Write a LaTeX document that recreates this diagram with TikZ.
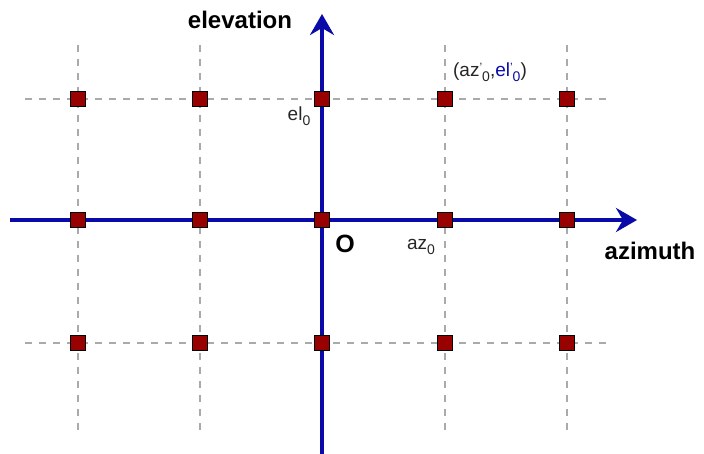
\documentclass[tikz,border=0pt]{standalone}
\usepackage{fontspec}
\setmainfont{Liberation Sans}
\usetikzlibrary{arrows.meta}
\definecolor{axisblue}{HTML}{0A0AA8}
\definecolor{ptred}{HTML}{990000}
\definecolor{gridgray}{HTML}{AAAAAA}
\newcommand{\subz}{\raisebox{-5pt}{\fontsize{14}{14}\selectfont 0}}
\newcommand{\primemark}{\raisebox{5pt}{\fontsize{12}{12}\selectfont '}}
\tikzset{
  gridline/.style={draw=gridgray, line width=2.2pt, dash pattern=on 7pt off 7pt},
  axisline/.style={draw=axisblue, line width=3.5pt},
  axisarrow/.style={axisline, -{Stealth[length=21pt,width=24pt,inset=7pt]}},
  pt/.style={draw=black, fill=ptred, line width=1pt, minimum size=15pt, inner sep=0pt, rectangle},
  biglabel/.style={font=\bfseries\fontsize{24}{28}\selectfont, inner sep=0pt},
  smalllabel/.style={font=\fontsize{19}{22}\selectfont, inner sep=0pt, text=black!85},
}
\begin{document}
\begin{tikzpicture}[x=1pt,y=-1pt]
\useasboundingbox (0,0) rectangle (704,454);
% grid coordinates
\foreach \c/\x in {1/78,2/200,3/322,4/445,5/567}{
  \coordinate (vt\c) at (\x,45);
  \coordinate (vb\c) at (\x,430);
}
\foreach \r/\y in {1/99,2/220,3/343}{
  \coordinate (hl\r) at (25,\y);
  \coordinate (hr\r) at (608,\y);
}
\foreach \c in {1,2,4,5}{ \draw[gridline] (vt\c) -- (vb\c); }
\foreach \r in {1,3}{ \draw[gridline] (hl\r) -- (hr\r); }
% axes
\coordinate (xstart) at (10,220);
\coordinate (xend) at (637,220);
\coordinate (ystart) at (322,454);
\coordinate (yend) at (322,14);
\draw[axisarrow] (xstart) -- (xend);
\draw[axisarrow] (ystart) -- (yend);
% points
\foreach \c/\x in {1/78,2/200,3/322,4/445,5/567}{
  \foreach \r/\y in {1/99,2/220,3/343}{
    \node[pt] (p\c\r) at (\x,\y) {};
  }
}
% labels
\node[biglabel] (elev) at (240,20) {elevation};
\node[biglabel] (azim) at (650,251) {azimuth};
\node[font=\bfseries\fontsize{25}{28}\selectfont, inner sep=0pt] (orig) at (345,244) {O};
\node[smalllabel] (az0) at (421,247) {az\subz};
\node[smalllabel] (el0) at (299,116) {el\subz};
\node[smalllabel] (pp) at (490,72) {(az\primemark\subz,\textcolor{axisblue}{el\primemark\subz})};
\end{tikzpicture}
\end{document}
